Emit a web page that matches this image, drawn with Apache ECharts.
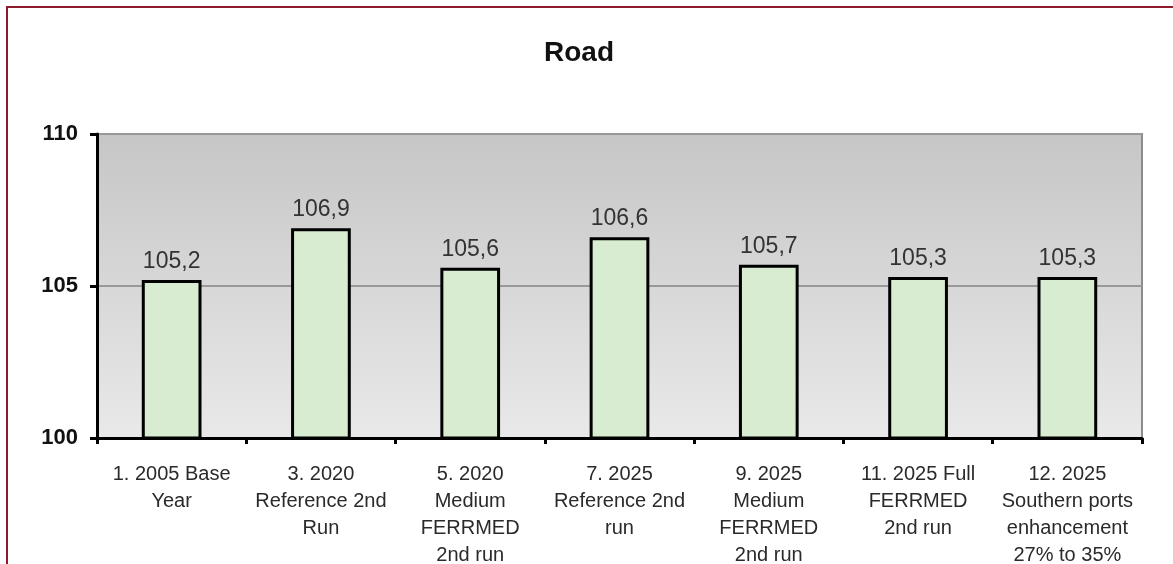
<!DOCTYPE html>
<html>
<head>
<meta charset="utf-8">
<script src="https://cdn.jsdelivr.net/npm/echarts@6/dist/echarts.min.js"></script>
<style>
  html, body { margin: 0; padding: 0; background: #fff; }
  #wrap { position: relative; width: 1173px; height: 564px; }
  #frame { position: absolute; left: 6px; top: 6px; right: 0; bottom: 0;
           border-left: 2px solid #8e1b2e; border-top: 2px solid #8e1b2e; pointer-events: none; }
  #chart { width: 1173px; height: 564px; }
</style>
</head>
<body>
<div id="wrap">
  <div id="chart"></div>
  <div id="frame"></div>
</div>
<script>
var categories = [
  '1. 2005 Base\nYear',
  '3. 2020\nReference 2nd\nRun',
  '5. 2020\nMedium\nFERRMED\n2nd run',
  '7. 2025\nReference 2nd\nrun',
  '9. 2025\nMedium\nFERRMED\n2nd run',
  '11. 2025 Full\nFERRMED\n2nd run',
  '12. 2025\nSouthern ports\nenhancement\n27% to 35%'
]
var roadValues = [105.2, 106.9, 105.6, 106.6, 105.7, 105.3, 105.3]

var chart = echarts.init(document.getElementById('chart'))
chart.setOption({
  animation: false,
  title: {
    text: 'Road',
    left: 539,
    top: 34,
    textStyle: { fontFamily: 'Liberation Sans', fontSize: 28, fontWeight: 'bold', color: '#111' }
  },
  grid: {
    left: 97,
    right: 31,
    top: 134,
    bottom: 126,
    outerBoundsMode: 'none',
    containLabel: false,
    show: true,
    borderColor: '#8c8c8c',
    borderWidth: 2,
    backgroundColor: new echarts.graphic.LinearGradient(0, 0, 0, 1, [
      { offset: 0, color: '#c6c6c6' },
      { offset: 1, color: '#e9e9e9' }
    ])
  },
  xAxis: {
    type: 'category',
    data: categories,
    boundaryGap: true,
    axisLine: { lineStyle: { color: '#000', width: 3 } },
    axisTick: { show: true, length: 6, lineStyle: { color: '#000', width: 3 } },
    axisLabel: {
      interval: 0,
      margin: 23,
      fontFamily: 'Liberation Sans',
      fontSize: 20,
      lineHeight: 27,
      color: '#2a2a2a'
    }
  },
  yAxis: {
    type: 'value',
    min: 100,
    max: 110,
    interval: 5,
    axisLine: { show: true, lineStyle: { color: '#000', width: 3 } },
    axisTick: { show: true, length: 7, lineStyle: { color: '#000', width: 3 } },
    axisLabel: {
      margin: 19,
      fontFamily: 'Liberation Sans',
      fontSize: 22,
      fontWeight: 'bold',
      color: '#111'
    },
    splitLine: { lineStyle: { color: '#999', width: 2 } }
  },
  series: [{
    type: 'bar',
    data: roadValues,
    barWidth: '40%',
    itemStyle: { color: '#d7ecd0', borderColor: '#000', borderWidth: 3 },
    label: {
      show: true,
      position: 'top',
      distance: 7,
      fontFamily: 'Liberation Sans',
      fontSize: 23,
      color: '#333',
      formatter: function (p) { return p.value.toFixed(1).replace('.', ',') }
    }
  }]
})
</script>
</body>
</html>
